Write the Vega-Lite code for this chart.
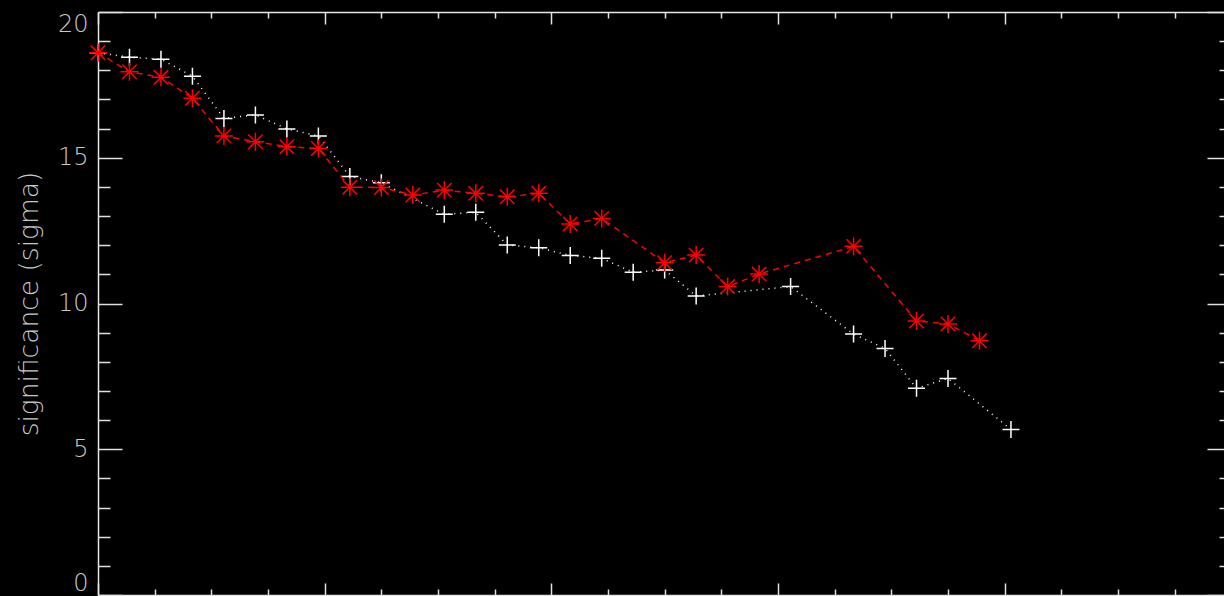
{
  "$schema": "https://vega.github.io/schema/vega-lite/v6.json",
  "autosize": "none",
  "width": 1126,
  "height": 583,
  "padding": {"left": 98, "top": 12, "right": 0, "bottom": 1},
  "background": "black",
  "config": {
    "view": {"stroke": null},
    "axis": {
      "grid": false,
      "domainColor": "#e8e8e8",
      "tickColor": "#e0e0e0",
      "labelColor": "#c8c8c8",
      "titleColor": "#c8c8c8",
      "labelFont": "DejaVu Sans",
      "titleFont": "DejaVu Sans",
      "labelFontSize": 24,
      "titleFontSize": 26.5,
      "labelFontWeight": 200,
      "titleFontWeight": 200,
      "domainWidth": 1.5,
      "tickWidth": 1.5
    }
  },
  "datasets": {
    "white": [
      {"bin": 0, "sigma": 18.6}, {"bin": 1, "sigma": 18.45}, {"bin": 2, "sigma": 18.38}, {"bin": 3, "sigma": 17.8},
      {"bin": 4, "sigma": 16.35}, {"bin": 5, "sigma": 16.47}, {"bin": 6, "sigma": 15.99}, {"bin": 7, "sigma": 15.75},
      {"bin": 8, "sigma": 14.36}, {"bin": 9, "sigma": 14.14}, {"bin": 11, "sigma": 13.06}, {"bin": 12, "sigma": 13.13},
      {"bin": 13, "sigma": 12.01}, {"bin": 14, "sigma": 11.91}, {"bin": 15, "sigma": 11.65}, {"bin": 16, "sigma": 11.55},
      {"bin": 17, "sigma": 11.07}, {"bin": 18, "sigma": 11.15}, {"bin": 19, "sigma": 10.26}, {"bin": 22, "sigma": 10.58},
      {"bin": 24, "sigma": 8.95}, {"bin": 25, "sigma": 8.46}, {"bin": 26, "sigma": 7.09}, {"bin": 27, "sigma": 7.43},
      {"bin": 29, "sigma": 5.68}
    ],
    "red": [
      {"bin": 0, "sigma": 18.6}, {"bin": 1, "sigma": 17.95}, {"bin": 2, "sigma": 17.76}, {"bin": 3, "sigma": 17.04},
      {"bin": 4, "sigma": 15.75}, {"bin": 5, "sigma": 15.55}, {"bin": 6, "sigma": 15.38}, {"bin": 7, "sigma": 15.32},
      {"bin": 8, "sigma": 13.99}, {"bin": 9, "sigma": 13.98}, {"bin": 10, "sigma": 13.72}, {"bin": 11, "sigma": 13.89},
      {"bin": 12, "sigma": 13.78}, {"bin": 13, "sigma": 13.66}, {"bin": 14, "sigma": 13.78}, {"bin": 15, "sigma": 12.73},
      {"bin": 16, "sigma": 12.92}, {"bin": 18, "sigma": 11.4}, {"bin": 19, "sigma": 11.66}, {"bin": 20, "sigma": 10.58},
      {"bin": 21, "sigma": 11.01}, {"bin": 24, "sigma": 11.96}, {"bin": 26, "sigma": 9.4}, {"bin": 27, "sigma": 9.3},
      {"bin": 28, "sigma": 8.72}
    ]
  },
  "layer": [
    {
      "data": {"name": "white"},
      "mark": {"type": "line", "color": "white", "strokeDash": [1, 5], "strokeWidth": 1.5},
      "encoding": {
        "x": {"field": "bin", "type": "quantitative", "scale": {"domain": [0, 35.767], "nice": false, "zero": false},
          "axis": {"orient": "bottom", "values": [0, 7.2, 14.4, 21.6, 28.8], "tickSize": -12, "labels": false, "title": null, "domain": true}},
        "y": {"field": "sigma", "type": "quantitative", "scale": {"domain": [0, 20], "nice": false},
          "axis": {"orient": "left", "values": [0, 5, 10, 15, 20], "tickSize": -24, "labelPadding": 34, "labelFlush": true, "title": "significance (sigma)", "titlePadding": 14, "domain": true}}
      }
    },
    {
      "data": {"name": "white"},
      "mark": {"type": "point", "shape": "M-1,0L1,0M0,-1L0,1", "filled": false, "color": "white", "size": 289, "strokeWidth": 1.5, "opacity": 1},
      "encoding": {
        "x": {"field": "bin", "type": "quantitative",
          "axis": {"orient": "bottom", "values": [1.8, 3.6, 5.4, 9, 10.8, 12.6, 16.2, 18, 19.8, 23.4, 25.2, 27, 30.6, 32.4, 34.2], "tickSize": -6, "labels": false, "title": null, "domain": false}},
        "y": {"field": "sigma", "type": "quantitative",
          "axis": {"orient": "left", "values": [1, 2, 3, 4, 6, 7, 8, 9, 11, 12, 13, 14, 16, 17, 18, 19], "tickSize": -12, "labels": false, "title": null, "domain": false}}
      }
    },
    {
      "data": {"name": "red"},
      "mark": {"type": "line", "color": "#ff0000", "strokeDash": [6, 5], "strokeWidth": 1.5},
      "encoding": {
        "x": {"field": "bin", "type": "quantitative",
          "axis": {"orient": "top", "values": [0, 7.2, 14.4, 21.6, 28.8], "tickSize": -12, "labels": false, "title": null, "domain": true}},
        "y": {"field": "sigma", "type": "quantitative",
          "axis": {"orient": "right", "values": [0, 5, 10, 15, 20], "tickSize": -24, "labels": false, "title": null, "domain": true, "offset": 7}}
      }
    },
    {
      "data": {"name": "red"},
      "mark": {"type": "point", "shape": "M-1,0L1,0M0,-1L0,1M-0.8,-0.8L0.8,0.8M-0.8,0.8L0.8,-0.8", "filled": false, "color": "#ff0000", "size": 324, "strokeWidth": 1.5, "opacity": 1},
      "encoding": {
        "x": {"field": "bin", "type": "quantitative",
          "axis": {"orient": "top", "values": [1.8, 3.6, 5.4, 9, 10.8, 12.6, 16.2, 18, 19.8, 23.4, 25.2, 27, 30.6, 32.4, 34.2], "tickSize": -6, "labels": false, "title": null, "domain": false}},
        "y": {"field": "sigma", "type": "quantitative",
          "axis": {"orient": "right", "values": [1, 2, 3, 4, 6, 7, 8, 9, 11, 12, 13, 14, 16, 17, 18, 19], "tickSize": -12, "labels": false, "title": null, "domain": false, "offset": 7}}
      }
    }
  ],
  "resolve": {"axis": {"x": "independent", "y": "independent"}}
}
